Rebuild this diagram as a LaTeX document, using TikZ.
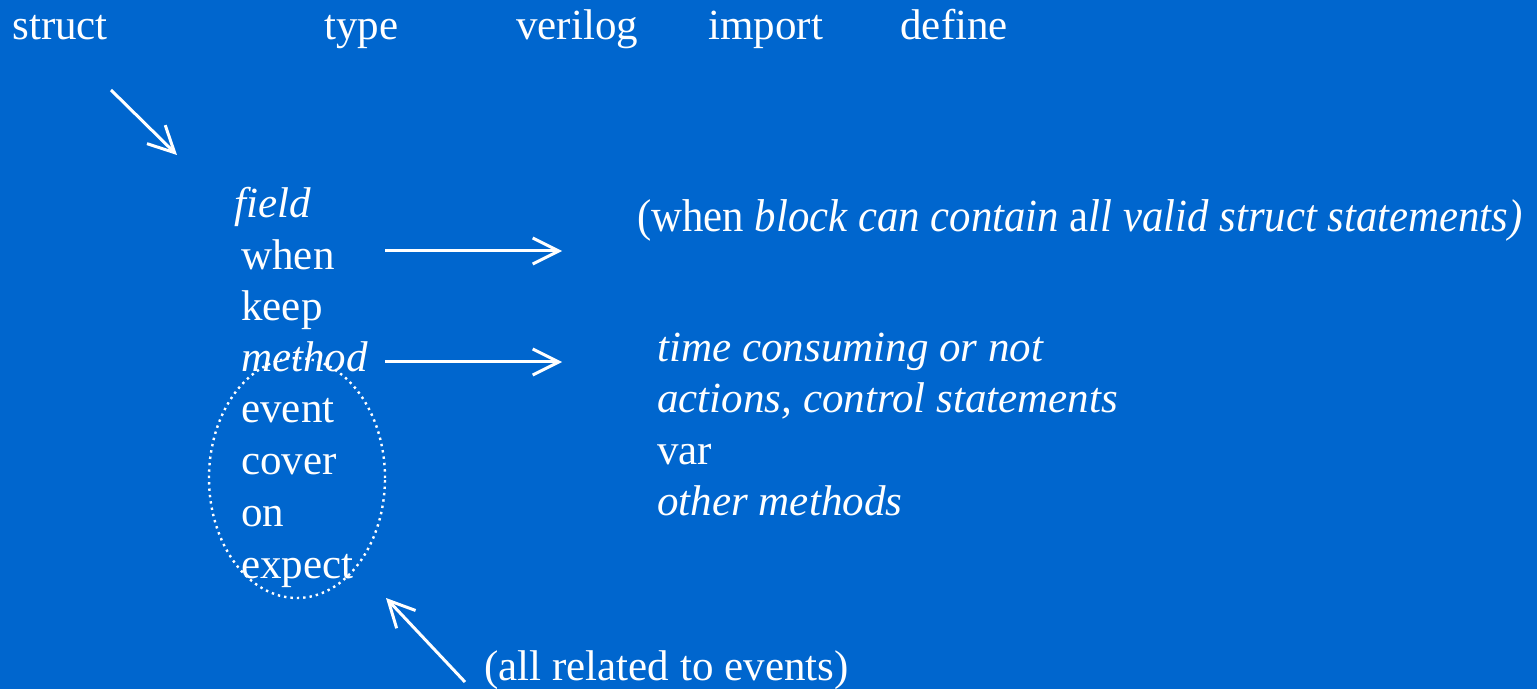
\documentclass[tikz,border=0pt]{standalone}
\usepackage{fontspec}
\setmainfont{Liberation Serif}
\usetikzlibrary{positioning,shapes.geometric,arrows.meta}
\definecolor{slideblue}{RGB}{0,102,206}

\begin{document}
\begin{tikzpicture}[x=0.5pt,y=-0.5pt,
    word/.style={anchor=base west,inner sep=0pt,text=white,font=\fontsize{21.5}{26}\selectfont},
    pointer/.style={draw=white,line width=1.5pt,-{Straight Barb[length=13pt,width=13pt,line width=1.5pt]}}]
\fill[slideblue] (0,0) rectangle (1537,689);
\useasboundingbox (0,0) rectangle (1537,689);

% top row of keywords
\node[word] (struct) at (12,40) {struct};
\node[word] (type) at (324,40) {type};
\node[word] (verilog) at (516,40) {verilog};
\node[word] (import) at (708,40) {import};
\node[word] (define) at (900,40) {define};

% struct members
\node[word] (field) at (234,218) {\textit{field}};
\node[word] (when) at (241,270) {when};
\node[word] (keep) at (241,321) {keep};
\node[word] (method) at (241,372) {\textit{method}};
\node[word] (event) at (241,423) {event};
\node[word] (cover) at (241,475) {cover};
\node[word] (on) at (241,526) {on};
\node[word] (expect) at (241,578) {expect};

% notes on the right
\node[word,font=\fontsize{23}{27}\selectfont,xscale=0.93] (whennote) at (637,232) {(when \textit{block can contain} a\textit{ll valid struct statements)}};
\node[word] (time) at (657,362) {\textit{time consuming or not}};
\node[word] (actions) at (657,413) {\textit{actions, control statements}};
\node[word] (var) at (657,465) {var};
\node[word] (others) at (657,516) {\textit{other methods}};
\node[word] (evnote) at (484,680) {(all related to events)};

% events group
\node (grp) [draw=white,dotted,line width=1.2pt,ellipse,minimum width=88pt,minimum height=120pt] at (297,478) {};

\coordinate (s0) at (111,90);
\coordinate (s1) at (177,155);
\coordinate (w0) at (385,251);
\coordinate (w1) at (562,251);
\coordinate (m0) at (385,362);
\coordinate (m1) at (562,362);
\coordinate (e0) at (465,682);
\coordinate (e1) at (386,598);
\draw[pointer] (s0) -- (s1);
\draw[pointer] (w0) -- (w1);
\draw[pointer] (m0) -- (m1);
\draw[pointer] (e0) -- (e1);
\end{tikzpicture}
\end{document}
